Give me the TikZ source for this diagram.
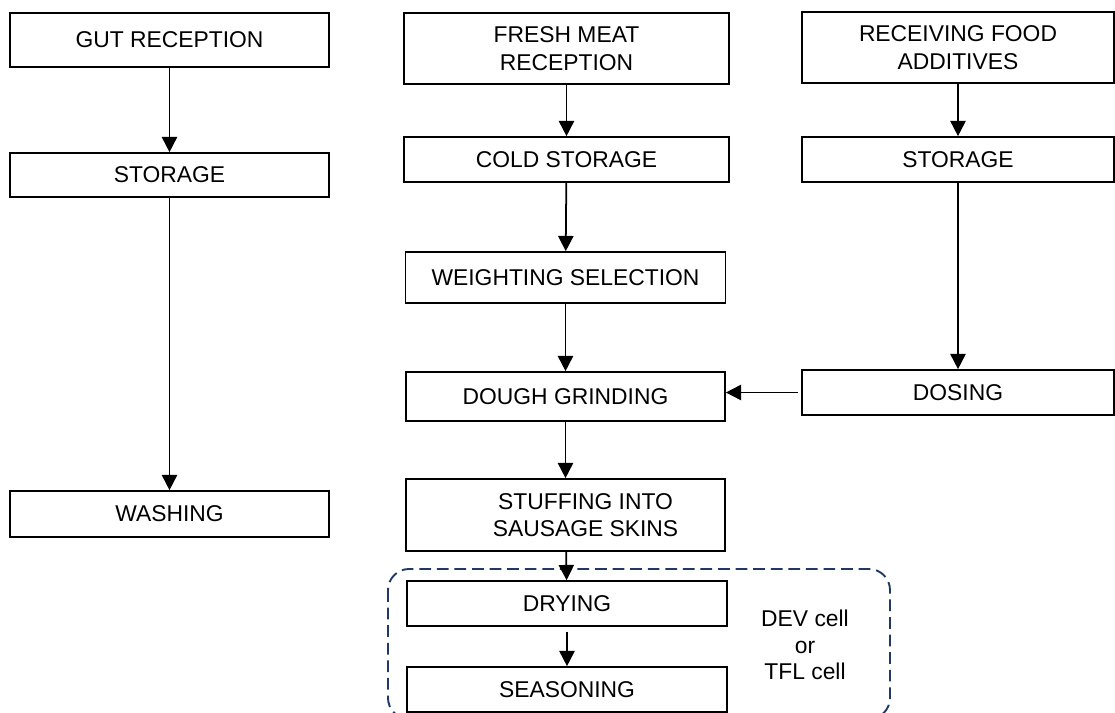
\documentclass[tikz,border=0pt]{standalone}
\usepackage{fontspec}
\setmainfont{Liberation Sans}
\usetikzlibrary{arrows.meta}
\definecolor{cellnavy}{HTML}{1F3864}

\begin{document}
\begin{tikzpicture}[x=0.03cm,y=-0.03cm,
    procbox/.style={draw,line width=1.4pt,minimum width=9.6cm,minimum height=1.35cm,
      inner sep=0pt,align=center,font=\fontsize{19.5}{23.4}\selectfont},
    flow/.style={line width=1.5pt,-{Triangle[width=13pt,length=13pt]}}]
    \useasboundingbox (0,0) rectangle (1115,713);
    % gut column
    \node[procbox,minimum width=9.57cm,minimum height=1.62cm] (gut) at (169.5,40) {GUT RECEPTION};
    \node[procbox,minimum width=9.57cm,minimum height=1.32cm] (storL) at (169.5,175) {STORAGE};
    \node[procbox,minimum width=9.57cm,minimum height=1.38cm] (wash) at (169.5,514) {WASHING};
    % meat column
    \node[procbox,minimum width=9.75cm,minimum height=2.13cm] (fresh) at (566.5,48.5) {FRESH MEAT\\RECEPTION};
    \node[procbox,minimum width=9.75cm] (cold) at (566.5,159.5) {COLD STORAGE};
    \node[procbox,minimum height=1.53cm] (weight) at (565.5,277.5) {WEIGHTING SELECTION};
    \node[procbox,minimum width=9.57cm,minimum height=1.47cm] (dough) at (565.5,396.5) {DOUGH GRINDING};
    \node[procbox,minimum width=9.57cm,minimum height=2.16cm] (stuff) at (565.5,515)
      {\hspace*{1.2cm}STUFFING INTO\\\hspace*{1.2cm}SAUSAGE SKINS};
    \node[procbox] (dry) at (567,603.5) {DRYING};
    \node[procbox] (season) at (567,689.5) {SEASONING};
    % additives column
    \node[procbox,minimum width=9.36cm,minimum height=2.13cm] (recv) at (958,47.5) {RECEIVING FOOD\\ADDITIVES};
    \node[procbox,minimum width=9.36cm] (storR) at (958,159.5) {STORAGE};
    \node[procbox,minimum width=9.36cm] (dose) at (958,392.5) {DOSING};
    % cell
    \draw[cellnavy,line width=1.6pt,dash pattern=on 10pt off 5pt,rounded corners=18pt]
      (388,569) rectangle (890,719);
    \node[align=center,font=\fontsize{19.5}{22.6}\selectfont] (cell) at (805,645) {DEV cell\\or\\TFL cell};

    \draw[flow] (gut) -- (storL);
    \draw[flow] (storL) -- (wash);
    \draw[flow] (fresh) -- (cold);
    \draw[flow] (cold) -- (weight);
    \draw[flow] (weight) -- (dough);
    \draw[flow] (dough) -- (stuff);
    \draw[flow] (stuff) -- (dry);
    \draw[flow,shorten <=4pt] (dry) -- (season);
    \draw[flow] (recv) -- (storR);
    \draw[flow] (storR) -- (dose);
    \draw[flow,shorten <=3pt] (dose.west) -- (dose.west -| dough.east);
\end{tikzpicture}
\end{document}
